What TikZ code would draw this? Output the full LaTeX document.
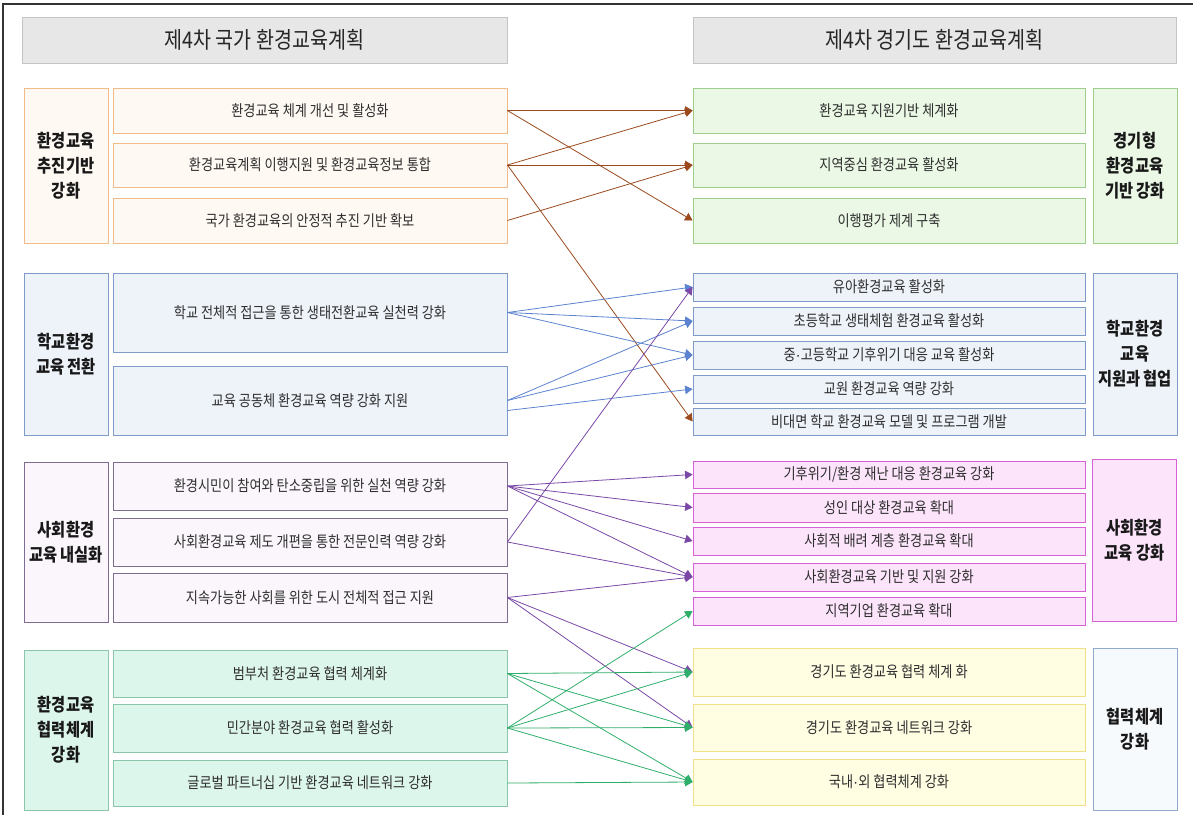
\documentclass[tikz,border=0pt]{standalone}
\usepackage{fontspec}
\newfontfamily\kr[FakeStretch=0.85]{Noto Sans CJK KR}
\newfontfamily\lat{Liberation Sans}
\newcommand{\mdot}{{\lat ·}}
\usetikzlibrary{arrows.meta}
\definecolor{hdrF}{HTML}{E7E7E7}\definecolor{hdrD}{HTML}{C4C4C4}
\definecolor{orgF}{HTML}{FFF9F3}\definecolor{orgD}{HTML}{F2BC8A}
\definecolor{grnF}{HTML}{EAF8E5}\definecolor{grnD}{HTML}{9FCE8C}
\definecolor{bluF}{HTML}{EEF3FA}\definecolor{bluD}{HTML}{7F9CC8}
\definecolor{purF}{HTML}{FBF6FC}\definecolor{purD}{HTML}{7E6C92}
\definecolor{pnkF}{HTML}{FCE4FA}\definecolor{pnkD}{HTML}{D662D6}
\definecolor{tealF}{HTML}{DDF6EC}\definecolor{tealD}{HTML}{8CC5AA}
\definecolor{yelF}{HTML}{FFFDE2}\definecolor{yelD}{HTML}{F0E089}
\definecolor{wbF}{HTML}{F7FAFD}\definecolor{wbD}{HTML}{8FAACC}
\definecolor{txt}{HTML}{2E2E2E}
\definecolor{arO}{HTML}{9A4A1C}
\definecolor{arB}{HTML}{5B83D0}
\definecolor{arP}{HTML}{7A48A6}
\definecolor{arG}{HTML}{2FAE6A}
\tikzset{
  box/.style={draw, line width=0.8pt, inner sep=0pt, align=center, text=txt,
    font=\kr\fontsize{15.5}{18}\selectfont},
  catbox/.style={box, text=black!90, font=\kr\bfseries\fontsize{18}{25}\selectfont},
  hdr/.style={draw=hdrD, fill=hdrF, line width=0.8pt, inner sep=0pt, text=black!85,
    font=\kr\fontsize{23}{26}\selectfont, minimum height=46pt},
  litem/.style={box, minimum width=394pt},
  ritem/.style={box, minimum width=392pt},
  cat/.style={catbox, minimum width=84pt},
  org/.style={fill=orgF, draw=orgD},
  grn/.style={fill=grnF, draw=grnD},
  blu/.style={fill=bluF, draw=bluD},
  pur/.style={fill=purF, draw=purD},
  pnk/.style={fill=pnkF, draw=pnkD},
  teal/.style={fill=tealF, draw=tealD},
  yel/.style={fill=yelF, draw=yelD},
  wb/.style={fill=wbF, draw=wbD},
  arr/.style={line width=0.8pt, -{Triangle[length=7.5pt,width=8.5pt]}},
  aO/.style={arr, draw=arO},
  aB/.style={arr, draw=arB},
  aP/.style={arr, draw=arP},
  aG/.style={arr, draw=arG}
}
\begin{document}
\begin{tikzpicture}[x=1pt, y=-1pt]
\useasboundingbox (0,0) rectangle (1193,815);
\draw[line width=1.3pt, black!80] (3,815) -- (3,4) -- (1193,4);
% headers
\node[hdr, minimum width=485pt] (HL) at (264.5,40) {제4차 국가 환경교육계획};
\node[hdr, minimum width=483pt] (HR) at (934.5,40) {제4차 경기도 환경교육계획};
% group 1
\node[cat, org, minimum height=155pt] (C1) at (66,165.5) {환경교육\\추진기반\\강화};
\node[litem, org, minimum height=45pt] (L1a) at (310,110.5) {환경교육 체계 개선 및 활성화};
\node[litem, org, minimum height=44pt] (L1b) at (310,165) {환경교육계획 이행지원 및 환경교육정보 통합};
\node[litem, org, minimum height=45pt] (L1c) at (310,220.5) {국가 환경교육의 안정적 추진 기반 확보};
\node[ritem, grn, minimum height=45pt] (R1a) at (889,110.5) {환경교육 지원기반 체계화};
\node[ritem, grn, minimum height=44pt] (R1b) at (889,165) {지역중심 환경교육 활성화};
\node[ritem, grn, minimum height=45pt] (R1c) at (889,220.5) {이행평가 제계 구축};
\node[cat, grn, minimum height=155pt] (D1) at (1135,165.5) {경기형\\환경교육\\기반 강화};
% group 2
\node[cat, blu, minimum height=162pt] (C2) at (66,354) {학교환경\\교육 전환};
\node[litem, blu, minimum height=79pt] (L2a) at (310,312.5) {학교 전체적 접근을 통한 생태전환교육 실천력 강화};
\node[litem, blu, minimum height=69pt] (L2b) at (310,400.5) {교육 공동체 환경교육 역량 강화 지원};
\node[ritem, blu, minimum height=28pt] (R2a) at (889,287) {유아환경교육 활성화};
\node[ritem, blu, minimum height=28pt] (R2b) at (889,321) {초등학교 생태체험 환경교육 활성화};
\node[ritem, blu, minimum height=28pt] (R2c) at (889,355) {중\mdot 고등학교 기후위기 대응 교육 활성화};
\node[ritem, blu, minimum height=28pt] (R2d) at (889,389) {교원 환경교육 역량 강화};
\node[ritem, blu, minimum height=27pt] (R2e) at (889,421.5) {비대면 학교 환경교육 모델 및 프로그램 개발};
\node[cat, blu, minimum height=162pt] (D2) at (1135,354) {학교환경\\교육\\지원과 협업};
% group 3
\node[cat, pur, minimum height=160pt] (C3) at (66,542) {사회환경\\교육 내실화};
\node[litem, pur, minimum height=48pt] (L3a) at (310,486) {환경시민이 참여와 탄소중립을 위한 실천 역량 강화};
\node[litem, pur, minimum height=48pt] (L3b) at (310,542) {사회환경교육 제도 개편을 통한 전문인력 역량 강화};
\node[litem, pur, minimum height=49pt] (L3c) at (310,597.5) {지속가능한 사회를 위한 도시 전체적 접근 지원};
\node[ritem, pnk, minimum height=27pt] (R3a) at (889,474.5) {기후위기/환경 재난 대응 환경교육 강화};
\node[ritem, pnk, minimum height=29pt] (R3b) at (889,507.5) {성인 대상 환경교육 확대};
\node[ritem, pnk, minimum height=28pt] (R3c) at (889,541) {사회적 배려 계층 환경교육 확대};
\node[ritem, pnk, minimum height=28pt] (R3d) at (889,577) {사회환경교육 기반 및 지원 강화};
\node[ritem, pnk, minimum height=28pt] (R3e) at (889,611) {지역기업 환경교육 확대};
\node[cat, pnk, minimum height=162pt] (D3) at (1134.5,540) {사회환경\\교육 강화};
% group 4
\node[cat, teal, minimum height=160pt] (C4) at (66,730) {환경교육\\협력체계\\강화};
\node[litem, teal, minimum height=47pt] (L4a) at (310,673.5) {범부처 환경교육 협력 체계화};
\node[litem, teal, minimum height=48pt] (L4b) at (310,728) {민간분야 환경교육 협력 활성화};
\node[litem, teal, minimum height=46pt] (L4c) at (310,783) {글로벌 파트너십 기반 환경교육 네트워크 강화};
\node[ritem, yel, minimum height=48pt] (R4a) at (889,672) {경기도 환경교육 협력 체계 화};
\node[ritem, yel, minimum height=47pt] (R4b) at (889,727.5) {경기도 환경교육 네트워크 강화};
\node[ritem, yel, minimum height=46pt] (R4c) at (889,782) {국내\mdot 외 협력체계 강화};
\node[cat, wb, minimum height=162pt] (D4) at (1135,729) {협력체계\\강화};
% connectors: group 1
\draw[aO] (L1a.east) -- (R1a.west);
\draw[aO] (L1a.east) -- (R1c.west);
\draw[aO] (L1b.east) -- (R1a.west);
\draw[aO] (L1b.east) -- (R1b.west);
\draw[aO] (L1b.east) -- (R2e.west);
\draw[aO] (L1c.east) -- (R1b.west);
% group 2
\draw[aB] (L2a.east) -- (R2a.west);
\draw[aB] (L2a.east) -- (R2b.west);
\draw[aB] (L2a.east) -- (R2c.west);
\draw[aB] (L2b.east) -- (R2b.west);
\draw[aB] (L2b.east) -- (R2c.west);
\draw[aB] ([yshift=-10pt]L2b.east) -- (R2d.west);
% group 3
\draw[aP] (L3a.east) -- (R3a.west);
\draw[aP] (L3a.east) -- (R3b.west);
\draw[aP] (L3a.east) -- (R3c.west);
\draw[aP] (L3a.east) -- (R3d.west);
\draw[aP] (L3b.east) -- (R2a.west);
\draw[aP] (L3b.east) -- (R3d.west);
\draw[aP] (L3c.east) -- (R3d.west);
\draw[aP] (L3c.east) -- (R4a.west);
\draw[aP] (L3c.east) -- (R4b.west);
% group 4
\draw[aG] (L4a.east) -- (R4a.west);
\draw[aG] (L4a.east) -- (R4b.west);
\draw[aG] (L4a.east) -- (R4c.west);
\draw[aG] (L4b.east) -- (R3e.west);
\draw[aG] (L4b.east) -- (R4a.west);
\draw[aG] (L4b.east) -- (R4b.west);
\draw[aG] (L4b.east) -- (R4c.west);
\draw[aG] (L4c.east) -- (R4c.west);
\end{tikzpicture}
\end{document}
